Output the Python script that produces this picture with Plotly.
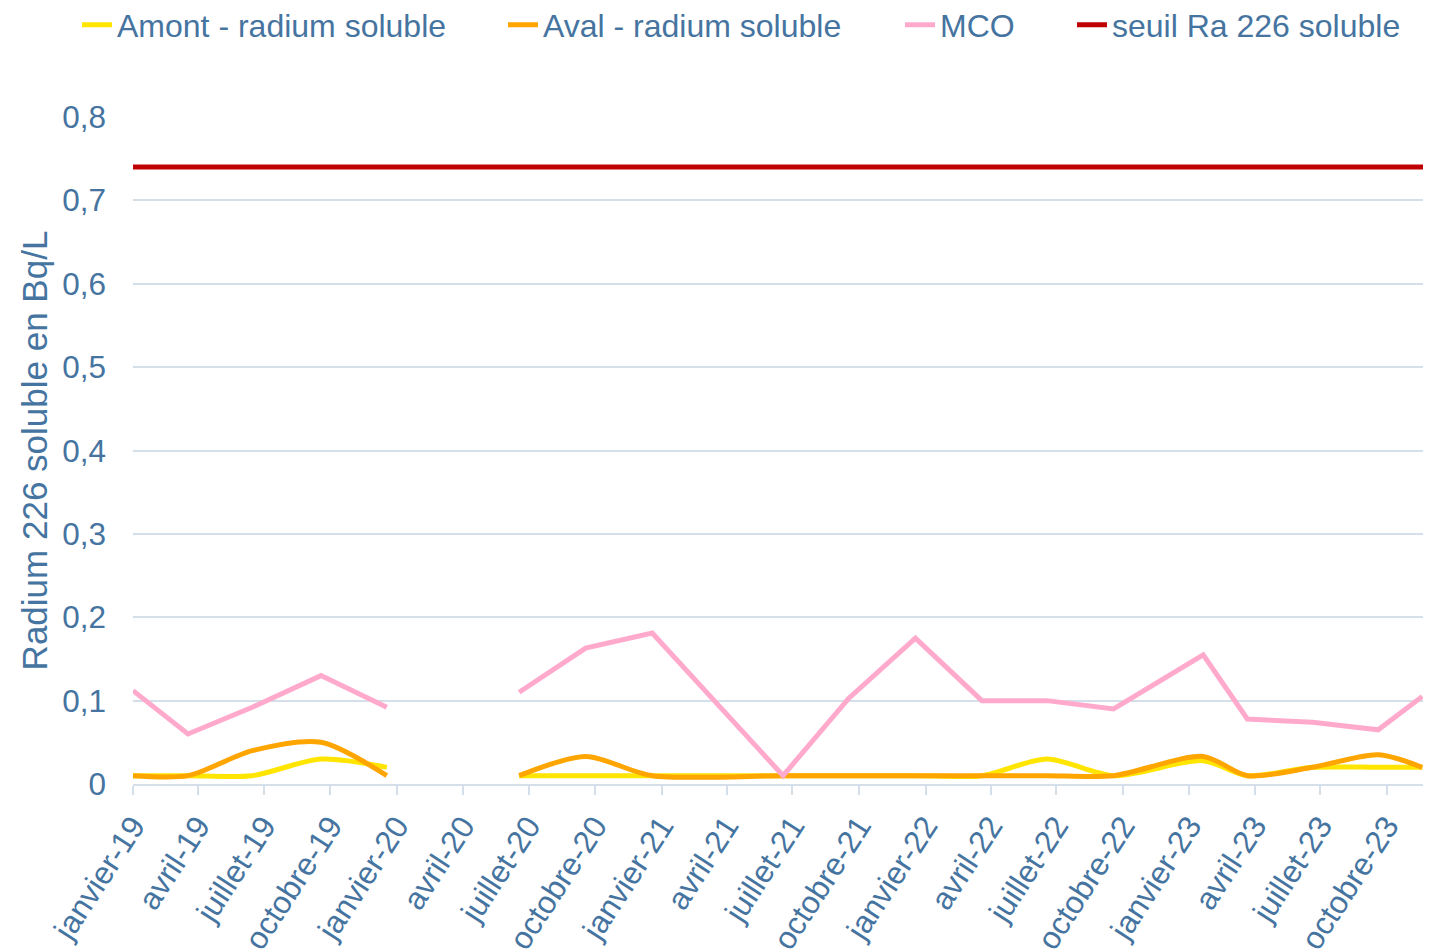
import plotly.graph_objects as go

# ---------------- data ----------------
dates = ["2019-01-01", "2019-03-18", "2019-06-15", "2019-09-18", "2019-12-18",
         "2020-03-15",
         "2020-06-18", "2020-09-18", "2020-12-19", "2021-06-18", "2021-09-17",
         "2021-12-18", "2022-03-20", "2022-06-18", "2022-09-18", "2023-01-20",
         "2023-03-22", "2023-06-20", "2023-09-19", "2023-11-19"]
amont = [0.01, 0.01, 0.01, 0.03, 0.02,
         None,
         0.01, 0.01, 0.01, 0.01, 0.01,
         0.01, 0.01, 0.03, 0.01, 0.028,
         0.01, 0.02, 0.02, 0.02]
aval = [0.01, 0.01, 0.04, 0.05, 0.01,
        None,
        0.01, 0.033, 0.01, 0.01, 0.01,
        0.01, 0.01, 0.01, 0.01, 0.033,
        0.01, 0.02, 0.035, 0.02]
mco = [0.112, 0.06, 0.092, 0.13, 0.092,
       None,
       0.11, 0.163, 0.181, 0.01, 0.103,
       0.175, 0.10, 0.10, 0.09, 0.155,
       0.078, 0.074, 0.065, 0.105]
seuil_dates = ["2019-01-01", "2023-11-30"]
seuil = [0.74, 0.74]

tick_dates = ["2019-01-01", "2019-04-01", "2019-07-01", "2019-10-01",
              "2020-01-01", "2020-04-01", "2020-07-01", "2020-10-01",
              "2021-01-01", "2021-04-01", "2021-07-01", "2021-10-01",
              "2022-01-01", "2022-04-01", "2022-07-01", "2022-10-01",
              "2023-01-01", "2023-04-01", "2023-07-01", "2023-10-01"]
tick_labels = ["janvier-19", "avril-19", "juillet-19", "octobre-19",
               "janvier-20", "avril-20", "juillet-20", "octobre-20",
               "janvier-21", "avril-21", "juillet-21", "octobre-21",
               "janvier-22", "avril-22", "juillet-22", "octobre-22",
               "janvier-23", "avril-23", "juillet-23", "octobre-23"]

names = ["Amont - radium soluble", "Aval - radium soluble", "MCO", "seuil Ra 226 soluble"]
colors = ["#FFE500", "#FFA500", "#FFAACC", "#C00000"]

TXT = "#4674A0"
GRID = "#D5DFE9"
FONT = "Liberation Sans, Arial, sans-serif"
LW = 5

fig = go.Figure()
fig.add_trace(go.Scatter(x=dates, y=amont, name=names[0], mode="lines",
                         line=dict(color=colors[0], width=LW, shape="spline", smoothing=0.8),
                         legend="legend"))
fig.add_trace(go.Scatter(x=dates, y=aval, name=names[1], mode="lines",
                         line=dict(color=colors[1], width=LW, shape="spline", smoothing=0.8),
                         legend="legend2"))
fig.add_trace(go.Scatter(x=dates, y=mco, name=names[2], mode="lines",
                         line=dict(color=colors[2], width=LW),
                         legend="legend3"))
fig.add_trace(go.Scatter(x=seuil_dates, y=seuil, name=names[3], mode="lines",
                         line=dict(color=colors[3], width=LW),
                         legend="legend4"))

# page body has an 8px margin: figure occupies page pixels 8..1431 / 8..949
OFF = 8
W, H = 1431 - OFF, 949 - OFF
text_starts = [117, 543, 940, 1112]
leg_common = dict(orientation="h", xref="container", yref="container",
                  y=1 - (27 - OFF - 2) / H, yanchor="middle", xanchor="left",
                  font=dict(size=32, color=TXT, family=FONT),
                  bgcolor="rgba(0,0,0,0)", borderwidth=0)
legends = {}
for i, key in enumerate(["legend", "legend2", "legend3", "legend4"]):
    legends[key] = dict(leg_common, x=(text_starts[i] - OFF - 40) / W)

fig.update_layout(
    width=W, height=H,
    margin=dict(l=133 - OFF, r=0, t=117 - OFF, b=H - (784 - OFF)),
    paper_bgcolor="white", plot_bgcolor="white",
    separators=", ",
    font=dict(family=FONT, color=TXT, size=31),
    showlegend=True,
    **legends,
)
fig.update_xaxes(
    type="date", range=["2019-01-01", "2023-12-01"], automargin=False,
    tickmode="array", tickvals=tick_dates, ticktext=tick_labels,
    tickangle=-57, tickfont=dict(size=31.5, color=TXT, family=FONT),
    showgrid=False, showline=True, linecolor=GRID, linewidth=2,
    ticks="outside", ticklen=9, tickwidth=2, tickcolor=GRID,
    zeroline=False,
)
fig.update_yaxes(
    range=[0, 0.8], dtick=0.1, tick0=0, automargin=False,
    tickfont=dict(size=31.5, color=TXT, family=FONT),
    showgrid=True, gridcolor=GRID, gridwidth=2,
    zeroline=False, showline=False,
    ticklabelstandoff=26,
    title=dict(text="Radium 226 soluble en Bq/L", font=dict(size=35, color=TXT, family=FONT),
               standoff=3),
)

fig.write_html("out.html")
